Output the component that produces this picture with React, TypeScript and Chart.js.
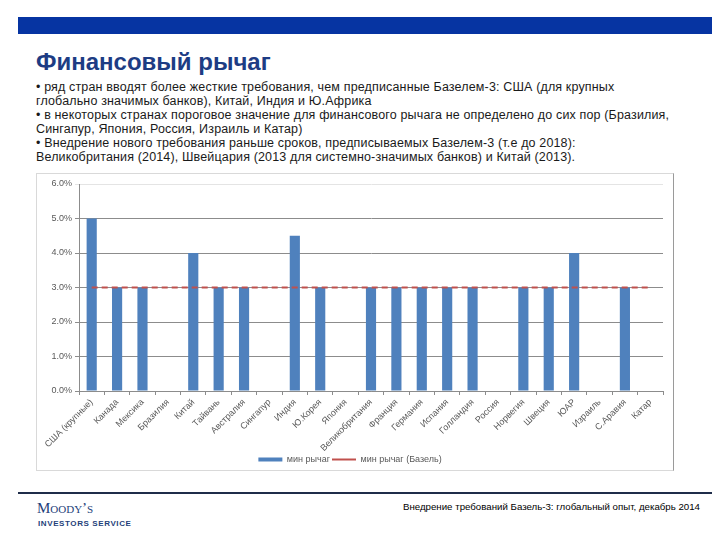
import React, { useEffect, useRef } from "react";
import { Chart, registerables } from "chart.js";

Chart.register(...registerables);

const categories = [
  "США (крупные)", "Канада", "Мексика", "Бразилия", "Китай", "Тайвань", "Австралия",
  "Сингапур", "Индия", "Ю.Корея", "Япония", "Великобритания", "Франция", "Германия",
  "Испания", "Голландия", "Россия", "Норвегия", "Швеция", "ЮАР", "Израиль", "С.Аравия", "Катар",
];

const minLeverage: (number | null)[] = [
  5.0, 3.0, 3.0, null, 4.0, 3.0, 3.0, null, 4.5, 3.0, null, 3.0, 3.0, 3.0,
  3.0, 3.0, null, 3.0, 3.0, 4.0, null, 3.0, null,
];

const baselLeverage: number[] = [
  3, 3, 3, 3, 3, 3, 3, 3, 3, 3, 3, 3, 3, 3, 3, 3, 3, 3, 3, 3, 3, 3, 3,
];

const yTicks = [0, 1, 2, 3, 4, 5, 6];

const seriesNames = ["мин рычаг", "мин рычаг (Базель)"];

const titleText = "Финансовый рычаг";
const bulletLines = [
  "• ряд стран вводят более жесткие требования, чем предписанные Базелем-3: США (для крупных",
  "глобально значимых банков), Китай, Индия и Ю.Африка",
  "• в некоторых странах пороговое значение для финансового рычага не определено до сих пор (Бразилия,",
  "Сингапур, Япония, Россия, Израиль и Катар)",
  "• Внедрение нового требования раньше сроков, предписываемых Базелем-3 (т.е до 2018):",
  "Великобритания (2014), Швейцария (2013 для системно-значимых банков) и Китай (2013).",
];
const footerText = "Внедрение требований Базель-3: глобальный опыт, декабрь 2014";

const chartFont = "'Liberation Sans', Arial, sans-serif";

function LeverageChart() {
  const ref = useRef<HTMLCanvasElement | null>(null);
  useEffect(() => {
    if (!ref.current) return;
    const chart = new Chart(ref.current, {
      type: "bar",
      data: {
        labels: categories,
        datasets: [
          {
            type: "bar",
            label: seriesNames[0],
            data: minLeverage,
            backgroundColor: "#4F81BD",
            borderColor: "#4F81BD",
            borderWidth: 0,
            categoryPercentage: 1,
            barPercentage: 0.4,
            pointStyle: "rect",
            order: 2,
          } as any,
          {
            type: "line",
            label: seriesNames[1],
            data: baselLeverage,
            borderColor: "#C0504D",
            backgroundColor: "#C0504D",
            borderWidth: 2,
            borderDash: [6, 4],
            pointRadius: 0,
            pointStyle: "line",
            order: 1,
          } as any,
        ],
      },
      options: {
        animation: false,
        responsive: false,
        maintainAspectRatio: false,
        layout: { padding: { top: 10, right: 10, bottom: -4, left: 0 } },
        plugins: {
          tooltip: { enabled: false },
          legend: {
            position: "bottom",
            labels: {
              usePointStyle: true,
              pointStyleWidth: 24,
              boxHeight: 4,
              padding: 2,
              color: "#595959",
              font: { family: chartFont, size: 9 },
              sort: (a: any, b: any) => a.datasetIndex - b.datasetIndex,
            },
          },
        },
        scales: {
          x: {
            grid: {
              display: true,
              drawOnChartArea: false,
              drawTicks: true,
              tickLength: 4,
              offset: true,
              color: "#8C8C8C",
            },
            border: { display: true, color: "#8C8C8C" },
            ticks: {
              autoSkip: false,
              maxRotation: 45,
              minRotation: 45,
              padding: 2,
              color: "#595959",
              font: { family: chartFont, size: 9 },
            },
            afterFit: (s: any) => {
              s.height = 62;
            },
          },
          y: {
            min: 0,
            max: 6,
            afterBuildTicks: (s: any) => {
              s.ticks = yTicks.map((v) => ({ value: v }));
            },
            grid: {
              color: (c: any) => (c.tick && c.tick.value === 6 ? "#E4E4E4" : "#8C8C8C"),
              drawTicks: true,
              tickLength: 4,
            },
            border: { display: true, color: "#8C8C8C" },
            ticks: {
              color: "#595959",
              padding: 3,
              font: { family: chartFont, size: 9 },
              callback: (v: any) => Number(v).toFixed(1) + "%",
            },
            afterFit: (s: any) => {
              s.width = 42;
            },
          },
        },
      } as any,
    });
    return () => chart.destroy();
  }, []);
  return <canvas ref={ref} width={636} height={296} style={{ display: "block" }} />;
}

export default function App() {
  return (
    <div
      style={{
        position: "absolute",
        left: 0,
        top: 0,
        width: 720,
        height: 540,
        background: "#FFFFFF",
        overflow: "hidden",
        fontFamily: "'Liberation Sans', Arial, sans-serif",
      }}
    >
      <div style={{ position: "absolute", left: 18, top: 17, width: 694, height: 17, background: "#0634A2" }} />
      <div
        style={{
          position: "absolute",
          left: 36,
          top: 50,
          fontSize: 24,
          lineHeight: "24px",
          fontWeight: "bold",
          color: "#1D3C84",
          whiteSpace: "nowrap",
        }}
      >
        {titleText}
      </div>
      <div
        style={{
          position: "absolute",
          left: 36,
          top: 80,
          fontSize: 12.5,
          lineHeight: "14px",
          letterSpacing: 0.15,
          color: "#1A1A1A",
          whiteSpace: "nowrap",
        }}
      >
        {bulletLines.map((l, i) => (
          <div key={i}>{l}</div>
        ))}
      </div>
      <div
        style={{
          position: "absolute",
          left: 36,
          top: 173,
          width: 638,
          height: 298,
          boxSizing: "border-box",
          borderTop: "1px solid #D9D9D9",
          borderLeft: "1px solid #D9D9D9",
          borderBottom: "1px solid #D9D9D9",
          borderRight: "1px solid #9A9A9A",
        }}
      >
        <LeverageChart />
      </div>
      <div style={{ position: "absolute", left: 18, top: 492, width: 694, height: 1.5, background: "#1F2D4A" }} />
      <div
        style={{
          position: "absolute",
          left: 37,
          top: 501,
          fontFamily: "'Liberation Serif', serif",
          fontSize: 15,
          lineHeight: "15px",
          fontVariant: "small-caps",
          color: "#1F3F7A",
          whiteSpace: "nowrap",
        }}
      >
        Moody’s
      </div>
      <div
        style={{
          position: "absolute",
          left: 38,
          top: 519,
          fontSize: 8,
          lineHeight: "9px",
          fontWeight: "bold",
          letterSpacing: 0.6,
          color: "#1F3F7A",
          whiteSpace: "nowrap",
        }}
      >
        INVESTORS SERVICE
      </div>
      <div
        style={{
          position: "absolute",
          right: 20,
          top: 501,
          fontSize: 9.7,
          lineHeight: "11px",
          color: "#000000",
          whiteSpace: "nowrap",
        }}
      >
        {footerText}
      </div>
    </div>
  );
}
